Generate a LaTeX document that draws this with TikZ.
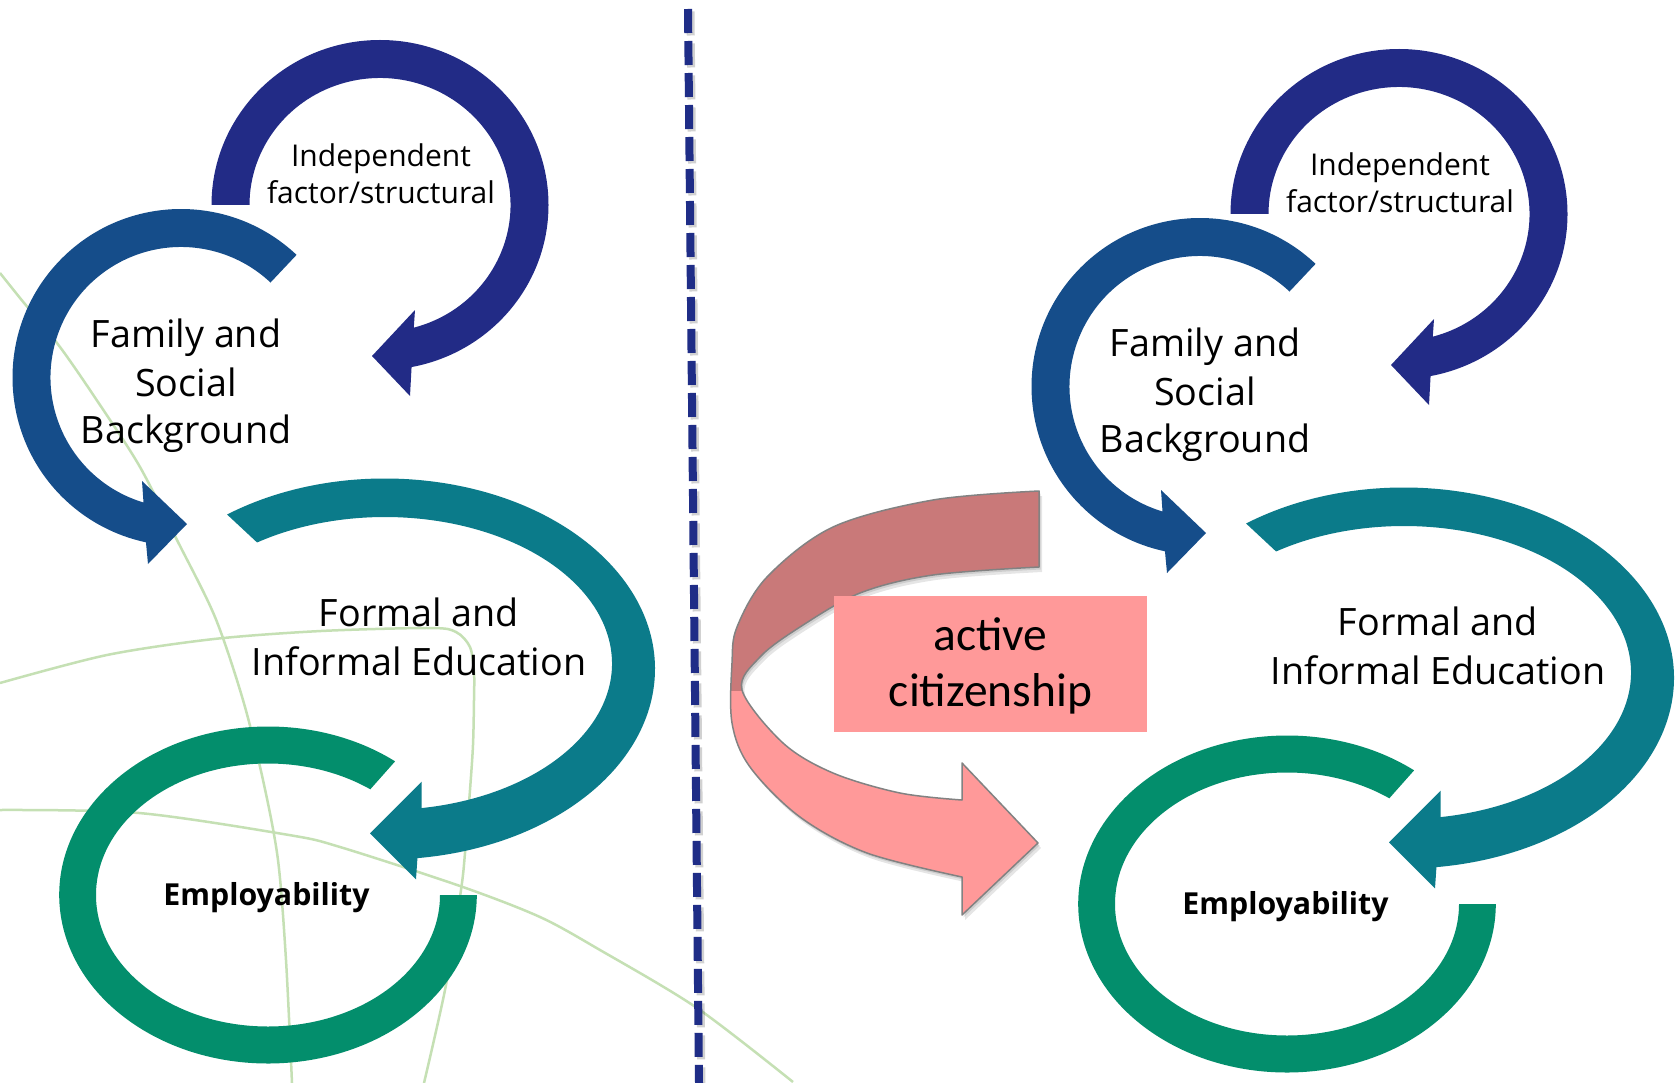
\documentclass[tikz,border=0pt]{standalone}
\usepackage{fontspec}
\setmainfont{Open Sans}
\newfontfamily\calfont{Carlito}
\usetikzlibrary{calc}
\definecolor{cdark}{RGB}{34,43,134}
\definecolor{cblue}{RGB}{21,77,138}
\definecolor{cteal}{RGB}{11,123,138}
\definecolor{cgreen}{RGB}{3,142,108}
\definecolor{cdash}{RGB}{31,45,135}
\definecolor{cbg}{RGB}{197,224,180}
\definecolor{pinkdark}{RGB}{201,121,121}
\definecolor{pinklight}{RGB}{255,153,153}
\definecolor{pinkline}{RGB}{130,130,130}
\tikzset{
  lbl/.style={font=\fontsize{37.7}{48}\selectfont, inner sep=0pt, anchor=base},
  smalllbl/.style={font=\fontsize{30}{37}\selectfont, inner sep=0pt, anchor=base},
  emplbl/.style={font=\fontsize{30.3}{37}\selectfont\bfseries, inner sep=0pt, anchor=base},
  citlbl/.style={font=\calfont\fontsize{47.5}{56}\selectfont, inner sep=0pt, anchor=base},
  bgline/.style={draw=cbg, line width=2.5pt},
  dashline/.style={draw=cdash, line width=8pt, dash pattern=on 24pt off 8pt},
}
\newcommand\pinkshape{plot[smooth,tension=0.55] coordinates {(1039,491) (933,500) (833,527) (767,577) (737,627) (732,663) (732,723) (750,767) (800,817) (867,853) (962,877)} -- (962,915) -- (1038,843) -- (962,763) -- (962,800) -- plot[smooth,tension=0.55] coordinates {(962,800) (900,793) (833,773) (783,743) (742,690) (760,657) (800,627) (860,593) (933,575) (1039,567)} -- cycle}
\newcommand\drawhalf[3]{%
  % ring A : independent factor
  \coordinate (cA#3) at ({380+#1},{205+#2});
  \coordinate (Awo#3) at ({410+#1},{396+#2});
  \coordinate (Atip#3) at ({372+#1},{356+#2});
  \coordinate (Awi#3) at ({415+#1},{310+#2});
  \fill[cdark] ($(cA#3)+(-180:168.5 and 165)$) arc[start angle=-180,end angle=79.2,x radius=168.5,y radius=165]
     -- (Awo#3) -- (Atip#3) -- (Awi#3)
     -- ($(cA#3)+(75:130.5 and 127)$) arc[start angle=75,end angle=-180,x radius=130.5,y radius=127] -- cycle;
  % ring B : family
  \coordinate (cB#3) at ({181+#1},{377.5+#2});
  \coordinate (Bwo#3) at ({148+#1},{564+#2});
  \coordinate (Btip#3) at ({187+#1},{524+#2});
  \coordinate (Bwi#3) at ({142+#1},{481+#2});
  \fill[cblue] ($(cB#3)+(-46.7:168.5)$) arc[start angle=-46.7,end angle=-258,radius=168.5]
     -- (Bwo#3) -- (Btip#3) -- (Bwi#3)
     -- ($(cB#3)+(-253.3:130.5)$) arc[start angle=-253.3,end angle=-46.7,radius=130.5] -- cycle;
  % ring C : education
  \coordinate (cC#3) at ({385+#1},{669+#2});
  \coordinate (cCi#3) at ({385+#1},{663.5+#2});
  \coordinate (Cwo#3) at ({416+#1},{879.3+#2});
  \coordinate (Ctip#3) at ({370+#1},{833.3+#2});
  \coordinate (Cwi#3) at ({421.7+#1},{781.7+#2});
  \fill[cteal] ($(cC#3)+(-125.8:270 and 190.5)$) arc[start angle=-125.8,end angle=83.1,x radius=270,y radius=190.5]
     -- (Cwo#3) -- (Ctip#3) -- (Cwi#3)
     -- ($(cCi#3)+(80.7:227 and 146.5)$) arc[start angle=80.7,end angle=-124.3,x radius=227,y radius=146.5] -- cycle;
  % ring D : employability
  \coordinate (cD#3) at ({268+#1},{895+#2});
  \fill[cgreen] ($(cD#3)+(-52.5:208.8 and 168.5)$) arc[start angle=-52.5,end angle=-360,x radius=208.8,y radius=168.5]
     -- ($(cD#3)+(-360:172 and 131.5)$) arc[start angle=-360,end angle=-53.5,x radius=172,y radius=131.5] -- cycle;
  % texts
  \node[smalllbl] (ind1#3) at ({381+#1},{166.7+#2}) {Independent};
  \node[smalllbl] (ind2#3) at ({381+#1},{204+#2}) {factor/structural};
  \node[lbl] (fam1#3) at ({186+#1},{347.7+#2}) {Family and};
  \node[lbl] (fam2#3) at ({186+#1},{396.7+#2}) {Social};
  \node[lbl] (fam3#3) at ({186+#1},{443.3+#2}) {Background};
  \node[lbl] (for1#3) at ({419+#1},{626+#2}) {Formal and};
  \node[lbl] (for2#3) at ({419+#1},{675+#2}) {Informal Education};
  \node[emplbl] (emp#3) at ({266.5+#1},{905+#2}) {Employability};
}
\begin{document}
\begin{tikzpicture}[x=1pt,y=-1pt]
\useasboundingbox (0,0) rectangle (1675,1083);
\fill[white] (0,0) rectangle (1675,1083);
% background thin lines
\draw[bgline] plot[smooth] coordinates {(0,273) (20,298) (60,347) (100,405) (140,467) (177,540) (215,617) (243,700) (263,780) (278,860) (286,960) (292,1083)};
\draw[bgline] plot[smooth] coordinates {(0,683) (107,655) (214,639) (321,631) (430,628) (456,632) (470,647) (474,672) (474,700) (473,745) (470,790) (465,853) (461,890) (446,985) (424,1083)};
\draw[bgline] plot[smooth] coordinates {(0,810) (139,813) (289,835) (340,847) (460,886) (540,917) (600,950) (697,1008) (793,1082)};
% left half
\drawhalf{0}{0}{L}
% dashed divider
\coordinate (dtop) at (688,9);
\coordinate (dbot) at (699,1083);
\draw[dashline, draw=black, opacity=0.18] ($(dtop)+(2.5,2.5)$) -- ($(dbot)+(2.5,2.5)$);
\draw[dashline] (dtop) -- (dbot);
% right half
\drawhalf{1019}{9}{R}
% active citizenship arrow
\begin{scope}[shift={(3,5)}]
  \fill[black, opacity=0.10] \pinkshape;
\end{scope}
\begin{scope}[shift={(1.5,2.5)}]
  \fill[black, opacity=0.10] \pinkshape;
\end{scope}
\fill[pinklight] \pinkshape;
\begin{scope}
  \clip (700,440) rectangle (1100,690);
  \fill[pinkdark] \pinkshape;
\end{scope}
\draw[pinkline, line width=1.5pt, line join=round] \pinkshape;
\node[fill=pinklight, inner sep=0pt, minimum width=313pt, minimum height=136pt] (citbox) at (990.5,664) {};
\node[citlbl] (cit1) at (990.5,650) {active};
\node[citlbl] (cit2) at (990.5,706.7) {citizenship};
\end{tikzpicture}
\end{document}
